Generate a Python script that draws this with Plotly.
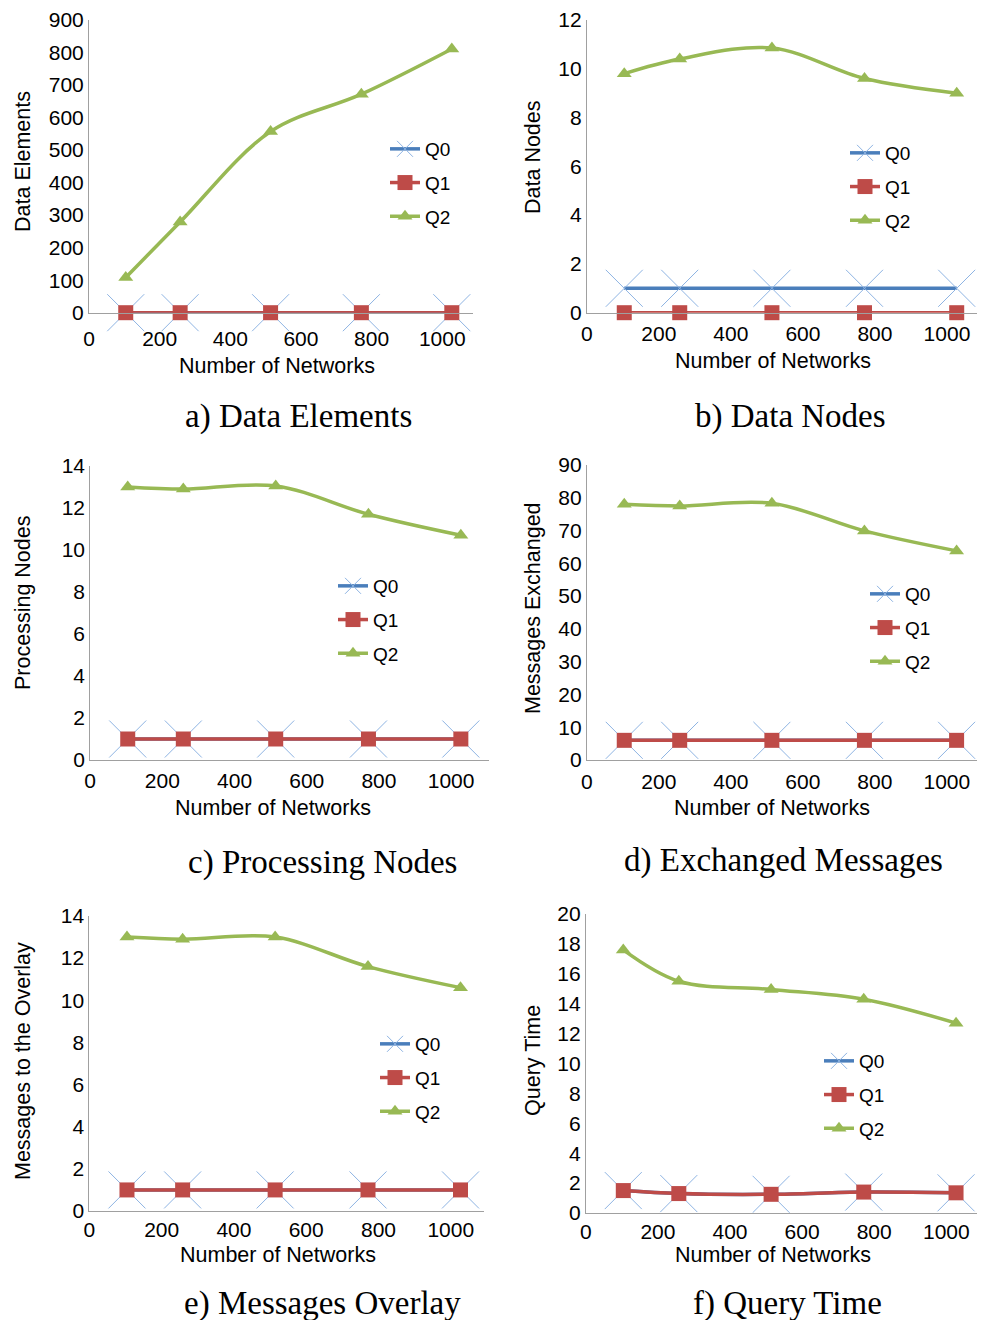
import plotly.graph_objects as go

# ---------------- data ----------------
networks = [104, 258, 514, 771, 1027]
x_tick_vals = [0, 200, 400, 600, 800, 1000]
series_names = ["Q0", "Q1", "Q2"]

# a) Data Elements
data_elements_q0 = [0, 0, 0, 0, 0]
data_elements_q1 = [0, 0, 0, 0, 0]
data_elements_q2 = [108, 279, 557, 672, 811]
# b) Data Nodes
data_nodes_q0 = [1, 1, 1, 1, 1]
data_nodes_q1 = [0, 0, 0, 0, 0]
data_nodes_q2 = [9.8, 10.4, 10.85, 9.6, 9.0]
# c) Processing Nodes
proc_nodes_q0 = [1, 1, 1, 1, 1]
proc_nodes_q1 = [1, 1, 1, 1, 1]
proc_nodes_q2 = [13.0, 12.9, 13.05, 11.7, 10.7]
# d) Exchanged Messages
exch_msgs_q0 = [6, 6, 6, 6, 6]
exch_msgs_q1 = [6, 6, 6, 6, 6]
exch_msgs_q2 = [78.0, 77.5, 78.3, 69.9, 63.8]
# e) Messages Overlay
overlay_msgs_q0 = [1, 1, 1, 1, 1]
overlay_msgs_q1 = [1, 1, 1, 1, 1]
overlay_msgs_q2 = [13.0, 12.9, 13.0, 11.6, 10.6]
# f) Query Time
query_time_q0 = [1.5, 1.3, 1.25, 1.4, 1.35]
query_time_q1 = [1.5, 1.3, 1.25, 1.4, 1.35]
query_time_q2 = [17.6, 15.5, 14.95, 14.3, 12.7]

y_titles = ["Data Elements", "Data Nodes", "Processing Nodes",
            "Messages Exchanged", "Messages to the Overlay", "Query Time"]
captions = ["a) Data Elements", "b) Data Nodes", "c) Processing Nodes",
            "d) Exchanged Messages", "e) Messages Overlay", "f) Query Time"]
y_maxes = [900, 12, 14, 90, 14, 20]
y_steps = [100, 2, 2, 10, 2, 2]
x_maxes = [1087, 1100, 1105, 1092, 1092, 1099]

panel_series = [
    (data_elements_q0, data_elements_q1, data_elements_q2),
    (data_nodes_q0, data_nodes_q1, data_nodes_q2),
    (proc_nodes_q0, proc_nodes_q1, proc_nodes_q2),
    (exch_msgs_q0, exch_msgs_q1, exch_msgs_q2),
    (overlay_msgs_q0, overlay_msgs_q1, overlay_msgs_q2),
    (query_time_q0, query_time_q1, query_time_q2),
]

# ---------------- layout geometry (page pixels) ----------------
PAGE_OFF = 8            # default body margin of the html page
W, H = 985 - PAGE_OFF, 1320 - PAGE_OFF
# (left, right, top, bottom) of each plot area in page px
boxes = [
    (89, 473, 20, 312.7),
    (586.8, 983, 20, 312.7),
    (90.2, 489, 466, 760),
    (586.8, 980, 465, 760),
    (89.4, 484, 916, 1211),
    (585.8, 982, 914, 1213),
]
x_label_standoff = [7, 2, 2, 3, 0, 0]
ytitle_pos = [(23, 162), (533, 157), (23, 603), (533, 608), (23, 1061), (533, 1061)]
xtitle_pos = [(277, 366), (773, 361), (273, 808), (772, 808), (278, 1255), (773, 1255)]
caption_pos = [(298, 416), (790, 416), (322, 862), (783, 860), (322, 1303), (787, 1303)]
legend_pos = [(385, 130), (845, 134), (333, 567), (865, 575), (375, 1025), (819, 1042)]

COL_Q0 = "#4A7EBB"
COL_Q0_MK = "#8EB4E3"
COL_Q1 = "#BE4B48"
COL_Q2 = "#98B954"
AXIS_COL = "#A0A0A0"
SANS = "Liberation Sans, Arial, sans-serif"
SERIF = "Liberation Serif, Times New Roman, serif"


def px_x(v):
    return (v - PAGE_OFF) / W


def px_y(v):
    return 1 - (v - PAGE_OFF) / H


fig = go.Figure()
layout = dict(
    width=W, height=H, margin=dict(l=0, r=0, t=0, b=0, pad=0, autoexpand=False),
    paper_bgcolor="white", plot_bgcolor="white",
    font=dict(family=SANS, size=21, color="black"),
    annotations=[],
)

for i in range(6):
    n = i + 1
    xa = "x" if n == 1 else f"x{n}"
    ya = "y" if n == 1 else f"y{n}"
    leg = "legend" if n == 1 else f"legend{n}"
    q0, q1, q2 = panel_series[i]

    fig.add_trace(go.Scatter(
        x=networks, y=q0, name=series_names[0], xaxis=xa, yaxis=ya, legend=leg,
        mode="lines+markers", line=dict(color=COL_Q0, width=3.5, shape="spline"),
        marker=dict(symbol="x-thin-open", size=37, color=COL_Q0_MK,
                    line=dict(color=COL_Q0_MK, width=1)),
        cliponaxis=False, legendgroup=f"g{n}a",
    ))
    fig.add_trace(go.Scatter(
        x=networks, y=q1, name=series_names[1], xaxis=xa, yaxis=ya, legend=leg,
        mode="lines+markers", line=dict(color=COL_Q1, width=3.5, shape="spline"),
        marker=dict(symbol="square", size=15, color=COL_Q1),
        cliponaxis=False, legendgroup=f"g{n}b",
    ))
    fig.add_trace(go.Scatter(
        x=networks, y=q2, name=series_names[2], xaxis=xa, yaxis=ya, legend=leg,
        mode="lines+markers", line=dict(color=COL_Q2, width=3.5, shape="spline"),
        marker=dict(symbol="triangle-up", size=13, color=COL_Q2),
        cliponaxis=False, legendgroup=f"g{n}c",
    ))

    l, r, t, b = boxes[i]
    xkey = "xaxis" if n == 1 else f"xaxis{n}"
    ykey = "yaxis" if n == 1 else f"yaxis{n}"
    layout[xkey] = dict(
        domain=[px_x(l), px_x(r)], range=[0, x_maxes[i]], anchor=ya,
        tickvals=x_tick_vals, ticktext=[str(v) for v in x_tick_vals],
        showgrid=False, zeroline=False, showline=True, linecolor=AXIS_COL,
        linewidth=1, ticks="", ticklabelstandoff=x_label_standoff[i],
        automargin=False, ticklabeloverflow="allow",
        tickfont=dict(family=SANS, size=21, color="black"),
    )
    yt = list(range(0, y_maxes[i] + 1, y_steps[i]))
    layout[ykey] = dict(
        domain=[px_y(b), px_y(t)], range=[0, y_maxes[i]], anchor=xa,
        tickvals=yt, ticktext=[str(v) for v in yt],
        showgrid=False, zeroline=False, showline=True, linecolor=AXIS_COL,
        linewidth=1, ticks="", ticklabelstandoff=0, automargin=False,
        ticklabeloverflow="allow",
        tickfont=dict(family=SANS, size=21, color="black"),
    )
    lx, ly = legend_pos[i]
    layout[leg] = dict(
        x=px_x(lx), y=px_y(ly), xanchor="left", yanchor="top",
        bgcolor="rgba(0,0,0,0)", borderwidth=0, tracegroupgap=6,
        font=dict(family=SANS, size=19, color="black"),
        itemsizing="trace",
    )
    # axis titles and captions
    tx, ty = ytitle_pos[i]
    layout["annotations"].append(dict(
        text=y_titles[i], x=px_x(tx), y=px_y(ty), xref="paper", yref="paper",
        textangle=-90, showarrow=False, xanchor="center", yanchor="middle",
        font=dict(family=SANS, size=21.5, color="black"),
    ))
    tx, ty = xtitle_pos[i]
    layout["annotations"].append(dict(
        text="Number of Networks", x=px_x(tx), y=px_y(ty), xref="paper", yref="paper",
        showarrow=False, xanchor="center", yanchor="middle",
        font=dict(family=SANS, size=21.5, color="black"),
    ))
    tx, ty = caption_pos[i]
    layout["annotations"].append(dict(
        text=captions[i], x=px_x(tx), y=px_y(ty), xref="paper", yref="paper",
        showarrow=False, xanchor="center", yanchor="middle",
        font=dict(family=SERIF, size=33, color="black"),
    ))

fig.update_layout(**layout)
fig.write_html("out.html")
